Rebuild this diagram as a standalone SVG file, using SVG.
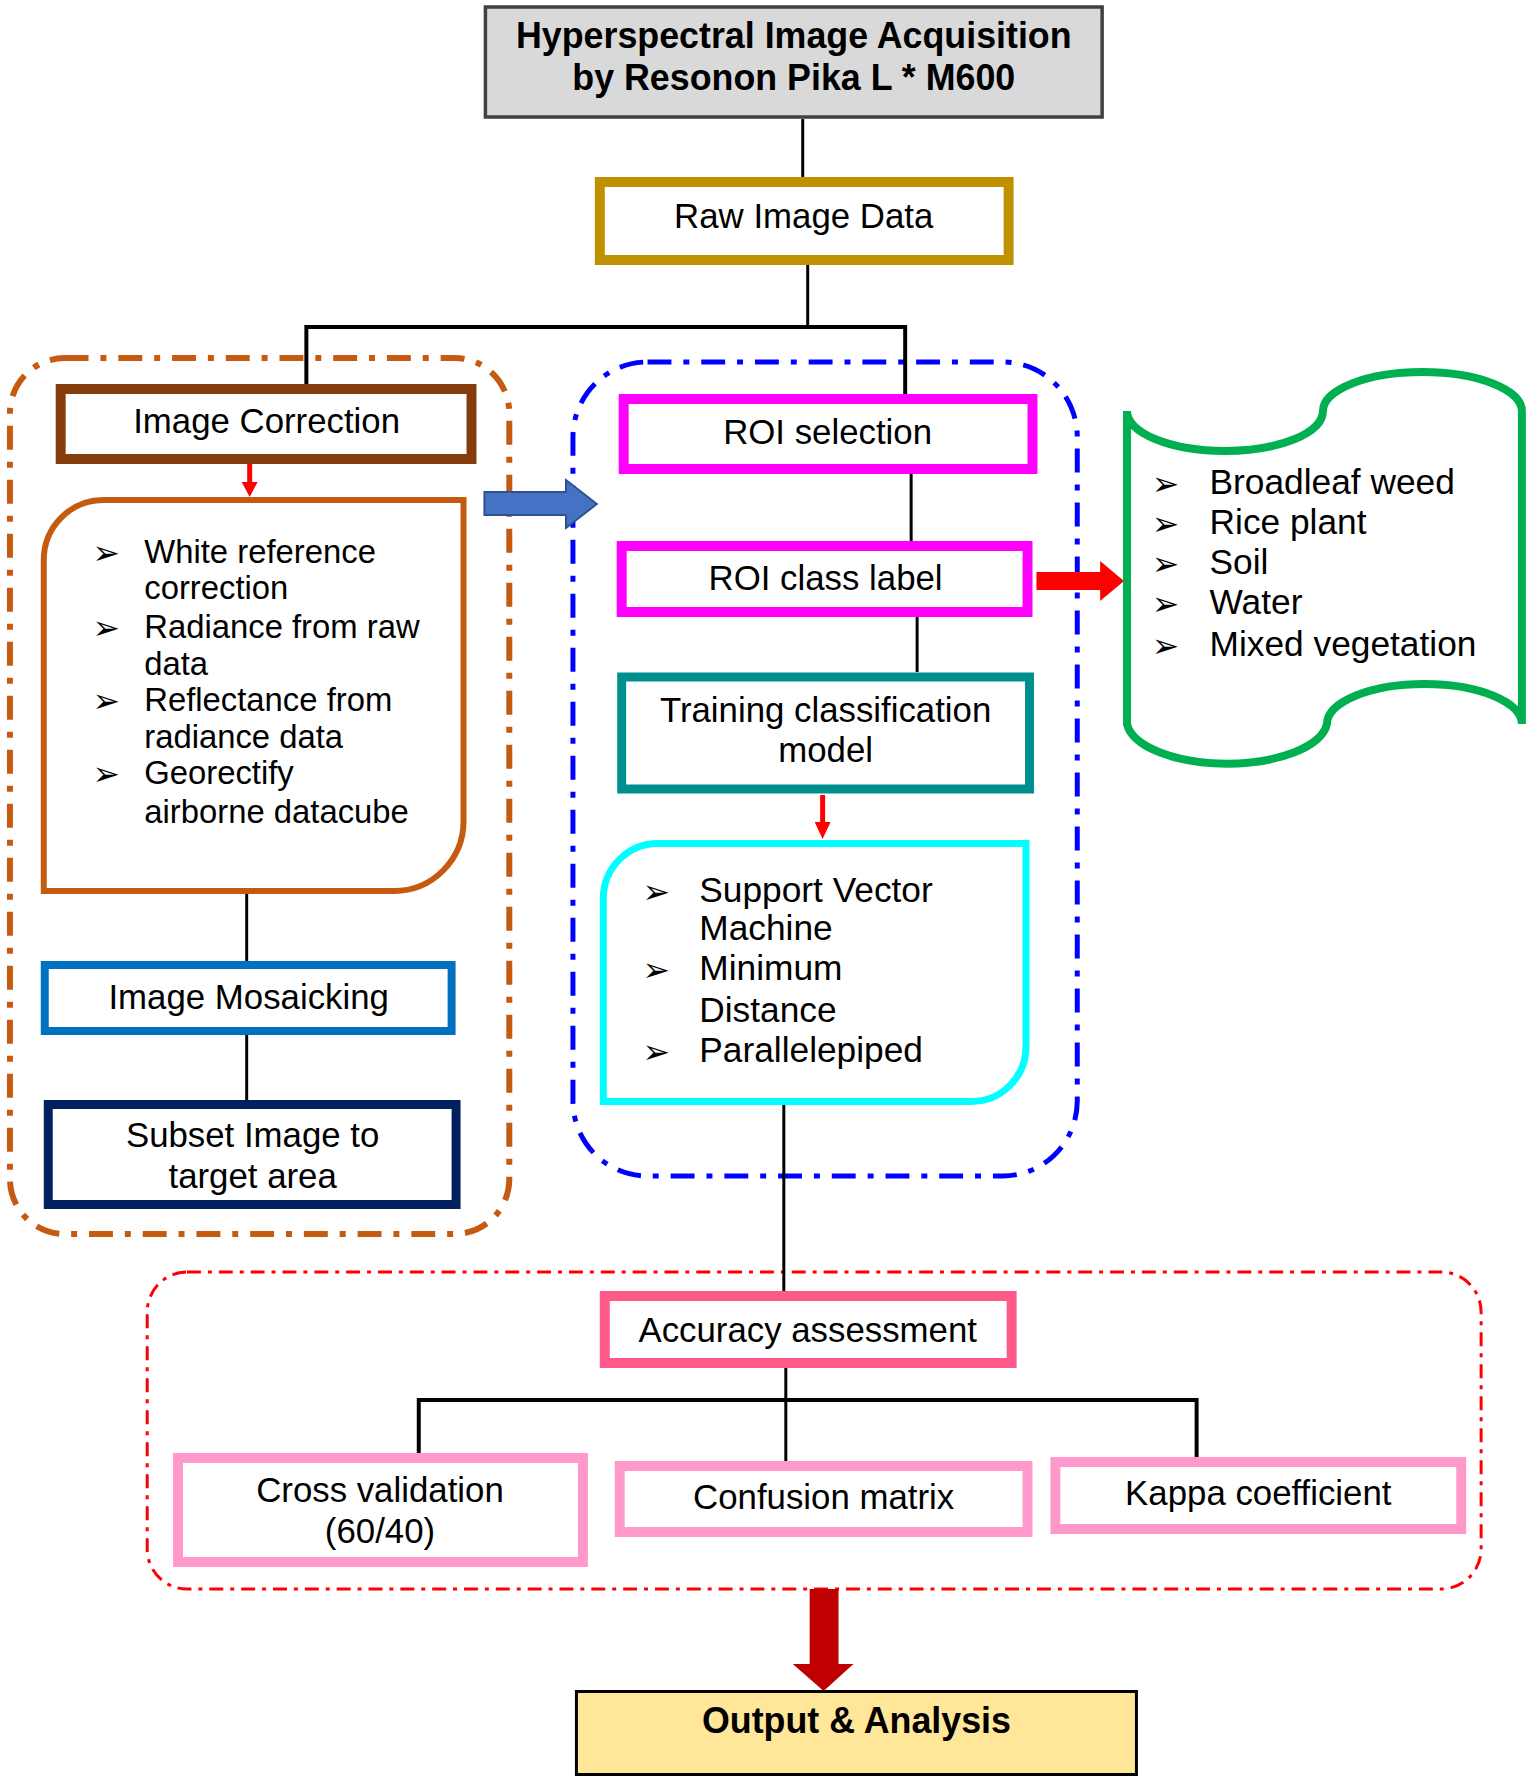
<svg xmlns="http://www.w3.org/2000/svg" width="1535" height="1784" viewBox="0 0 1535 1784">
<style>
.t{font-family:"Liberation Sans",Arial,sans-serif;font-size:35px;fill:#000;text-anchor:middle}
.tb{font-family:"Liberation Sans",Arial,sans-serif;font-size:36px;font-weight:bold;fill:#000;text-anchor:middle}
.bl{font-family:"Liberation Sans",Arial,sans-serif;font-size:33px;fill:#000}
.bl2{font-family:"Liberation Sans",Arial,sans-serif;font-size:35.5px;fill:#000}
.bu{font-family:"DejaVu Sans",sans-serif;font-size:33px;fill:#000}
.ln{stroke:#000;stroke-width:3;fill:none}
.box{fill:#fff}
</style>
<rect width="1535" height="1784" fill="#fff"/>
<g transform="scale(0.9947 1)">
<g id="containers" fill="none">
<rect x="10" y="358" width="502" height="876" rx="55" stroke="#c55a11" stroke-width="6" stroke-dasharray="24 12 6 12"/>
<rect x="576" y="362" width="507" height="814" rx="75" stroke="#0000ff" stroke-width="5" stroke-dasharray="24 12 6 12"/>
<rect x="148" y="1272" width="1341" height="317" rx="40" stroke="#ff0000" stroke-width="3" stroke-dasharray="14 7 4 7"/>
</g>
<g id="connectors">
<path class="ln" d="M807 119V177"/>
<path class="ln" d="M812 265V327"/>
<path class="ln" style="stroke-width:4" d="M308 384V327H910V394"/>
<path class="ln" d="M916 474V541"/>
<path class="ln" d="M922 617V672"/>
<path class="ln" d="M248 894V961"/>
<path class="ln" d="M248 1035V1100"/>
<path class="ln" d="M788 1105V1291"/>
<path class="ln" d="M790 1368V1461"/>
<path class="ln" style="stroke-width:4" d="M421 1453V1400H1203V1457"/>
<path d="M248.5 464V482H243L251 497L259 482H253.5V464Z" fill="#ff0000"/>
<path d="M824.5 795V822H819L827 839L835 822H829.5V795Z" fill="#ff0000"/>
<path d="M1042 572H1106V561L1130 581L1106 601V590H1042Z" fill="#ff0000"/>
<path d="M487 492H569V480L600 504L569 528V515H487Z" fill="#4472c4" stroke="#2f528f" stroke-width="2"/>
<path d="M814 1589H843V1664H858L828 1691L797 1664H814Z" fill="#c00000"/>
</g>
<g id="n_acq">
<rect x="488" y="7" width="620" height="110" fill="#d9d9d9" stroke="#404040" stroke-width="3.5"/>
<text class="tb" x="798" y="48">Hyperspectral Image Acquisition</text>
<text class="tb" x="798" y="90">by Resonon Pika L * M600</text>
</g>
<g id="n_raw">
<rect class="box" x="603" y="182" width="411" height="78" stroke="#bf9000" stroke-width="10"/>
<text class="t" x="808" y="228">Raw Image Data</text>
</g>
<g id="n_corr">
<rect class="box" x="61" y="389" width="413" height="70" stroke="#843c0c" stroke-width="10"/>
<text class="t" x="268" y="433">Image Correction</text>
</g>
<g id="n_corrlist">
<path class="box" d="M104 500H466V821A70 70 0 0 1 396 891H44V560A60 60 0 0 1 104 500Z" stroke="#c55a11" stroke-width="6"/>
<text class="bu" x="93" y="564">➢</text>
<text class="bl" x="145" y="563">White reference</text>
<text class="bl" x="145" y="599">correction</text>
<text class="bu" x="93" y="639">➢</text>
<text class="bl" x="145" y="638">Radiance from raw</text>
<text class="bl" x="145" y="675">data</text>
<text class="bu" x="93" y="712">➢</text>
<text class="bl" x="145" y="711">Reflectance from</text>
<text class="bl" x="145" y="748">radiance data</text>
<text class="bu" x="93" y="785">➢</text>
<text class="bl" x="145" y="784">Georectify</text>
<text class="bl" x="145" y="823">airborne datacube</text>
</g>
<g id="n_mosaic">
<rect class="box" x="45" y="965" width="409" height="66" stroke="#0070c0" stroke-width="8"/>
<text class="t" x="250" y="1009">Image Mosaicking</text>
</g>
<g id="n_subset">
<rect class="box" x="48.5" y="1104.5" width="410" height="100" stroke="#002060" stroke-width="9"/>
<text class="t" x="254" y="1147">Subset Image to</text>
<text class="t" x="254" y="1188">target area</text>
</g>
<g id="n_roisel">
<rect class="box" x="627" y="399" width="411" height="70" stroke="#ff00ff" stroke-width="10"/>
<text class="t" x="832" y="444">ROI selection</text>
</g>
<g id="n_roiclass">
<rect class="box" x="625" y="546" width="408" height="66" stroke="#ff00ff" stroke-width="10"/>
<text class="t" x="830" y="590">ROI class label</text>
</g>
<g id="n_classes">
<path class="box" d="M1133 411A98.5 40 0 0 0 1330 411A100 39 0 0 1 1530 411V724A98 40 0 0 0 1334 724A101 44 0 0 1 1133 724Z" stroke="#00b050" stroke-width="8"/>
<text class="bu" x="1158" y="495">➢</text>
<text class="bl2" x="1216" y="494">Broadleaf weed</text>
<text class="bu" x="1158" y="535">➢</text>
<text class="bl2" x="1216" y="534">Rice plant</text>
<text class="bu" x="1158" y="575">➢</text>
<text class="bl2" x="1216" y="574">Soil</text>
<text class="bu" x="1158" y="615">➢</text>
<text class="bl2" x="1216" y="614">Water</text>
<text class="bu" x="1158" y="657">➢</text>
<text class="bl2" x="1216" y="656">Mixed vegetation</text>
</g>
<g id="n_train">
<rect class="box" x="625" y="677" width="410" height="112" stroke="#008f8f" stroke-width="9"/>
<text class="t" x="830" y="722">Training classification</text>
<text class="t" x="830" y="762">model</text>
</g>
<g id="n_models">
<path class="box" d="M661.5 843.5H1031.5V1046.5A55 55 0 0 1 976.5 1101.5H606.5V898.5A55 55 0 0 1 661.5 843.5Z" stroke="#00ffff" stroke-width="7"/>
<text class="bu" x="646" y="903">➢</text>
<text class="bl2" x="703" y="902">Support Vector</text>
<text class="bl2" x="703" y="940">Machine</text>
<text class="bu" x="646" y="981">➢</text>
<text class="bl2" x="703" y="980">Minimum</text>
<text class="bl2" x="703" y="1022">Distance</text>
<text class="bu" x="646" y="1063">➢</text>
<text class="bl2" x="703" y="1062">Parallelepiped</text>
</g>
<g id="n_acc">
<rect class="box" x="608" y="1296" width="409" height="67" stroke="#ff5a8a" stroke-width="10"/>
<text class="t" x="812" y="1342">Accuracy assessment</text>
</g>
<g id="n_cross">
<rect class="box" x="179" y="1458" width="407" height="104" stroke="#ff99cc" stroke-width="10"/>
<text class="t" x="382" y="1502">Cross validation</text>
<text class="t" x="382" y="1543">(60/40)</text>
</g>
<g id="n_conf">
<rect class="box" x="623" y="1466" width="410" height="66" stroke="#ff99cc" stroke-width="10"/>
<text class="t" x="828" y="1509">Confusion matrix</text>
</g>
<g id="n_kappa">
<rect class="box" x="1061" y="1462" width="408" height="67" stroke="#ff99cc" stroke-width="10"/>
<text class="t" x="1265" y="1505">Kappa coefficient</text>
</g>
<g id="n_out">
<rect x="579.5" y="1691.5" width="563" height="83" fill="#ffe699" stroke="#000" stroke-width="3"/>
<text class="tb" x="861" y="1733">Output &amp; Analysis</text>
</g>
</g>
</svg>
